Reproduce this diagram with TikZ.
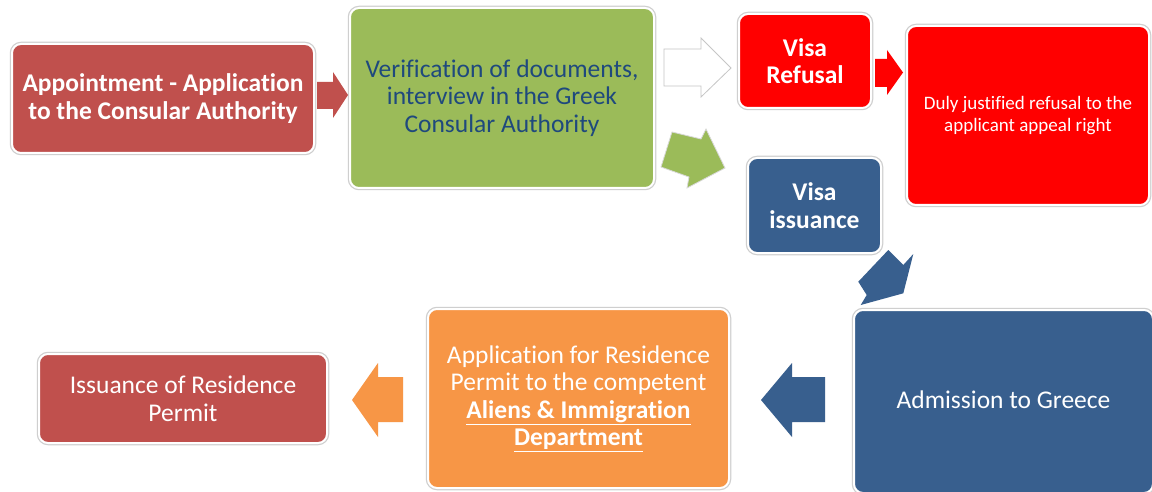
\documentclass[tikz,border=0pt]{standalone}
\usepackage{fontspec}
\setmainfont{Carlito}[Ligatures=NoCommon]
\definecolor{cRed}{HTML}{C0504D}
\definecolor{cGreen}{HTML}{9BBB59}
\definecolor{cBright}{HTML}{FF0000}
\definecolor{cBlue}{HTML}{385F8E}
\definecolor{cOrange}{HTML}{F79646}
\definecolor{cNavy}{HTML}{1F497D}
\definecolor{cEdge}{HTML}{CFCFCF}
\begin{document}
\begin{tikzpicture}[x=1pt,y=-1pt,
  box/.style={rounded corners=9pt, draw=white, line width=2pt,
    preaction={draw=cEdge, line width=4.5pt},
    align=center, text=white, font=\fontsize{25.5}{27.5}\selectfont, inner sep=0pt},
  smallbox/.style={box, font=\fontsize{19}{22}\selectfont},
]
\useasboundingbox (0,0) rectangle (1152,492);
\fill[white] (0,0) rectangle (1152,492);

% boxes
\node[box, fill=cRed, minimum width=302pt, minimum height=109pt] (appt) at (163,98.5)
  {\bfseries Appointment - Application\\\bfseries to the Consular Authority};
\node[box, fill=cGreen, text=cNavy, minimum width=304pt, minimum height=180pt] (verif) at (502,98)
  {Verification of documents,\\interview in the Greek\\Consular Authority};
\node[box, fill=cBright, minimum width=132pt, minimum height=94pt] (refusal) at (805,61)
  {\bfseries Visa\\\bfseries Refusal};
\node[smallbox, fill=cBright, minimum width=242pt, minimum height=179pt] (duly) at (1028,115.5)
  {Duly justified refusal to the\\applicant appeal right};
\node[box, fill=cBlue, minimum width=133pt, minimum height=95pt] (visa) at (814.5,205.5)
  {\bfseries Visa\\\bfseries issuance};
\node[box, fill=cBlue, minimum width=299pt, minimum height=183pt] (admit) at (1003.5,401.5)
  {\raisebox{3pt}{Admission to Greece}};
\node[box, fill=cOrange, minimum width=301pt, minimum height=179pt] (apply) at (578.5,398.5)
  {Application for Residence\\Permit to the competent\\\bfseries\underline{Aliens \& Immigration}\\\bfseries\underline{Department}};
\node[box, fill=cRed, minimum width=288pt, minimum height=89pt] (permit) at (183,398.5)
  {Issuance of Residence\\Permit};

% block arrows
\fill[cRed] (317,82) -- (333,82) -- (333,72) -- (348,95) -- (333,118) -- (333,109) -- (317,109) -- cycle;
\filldraw[fill=white, draw=gray!45, line width=0.8pt] (664,49) -- (701,49) -- (701,38) -- (731,68) -- (701,97) -- (701,86) -- (664,86) -- cycle;
\filldraw[fill=cGreen, draw=gray!30, line width=0.8pt] (672,132) -- (701,139) -- (706,129) -- (725,168) -- (687,188) -- (689,177) -- (661,167) -- cycle;
\fill[cBright] (875,59) -- (887,59) -- (887,50) -- (903,72.5) -- (887,95) -- (887,87) -- (875,87) -- cycle;
\fill[cBlue] (888.3,250) -- (903.3,265) -- (913.3,254) -- (903.3,293.3) -- (860.7,305) -- (866.7,295) -- (858.3,281.7) -- cycle;
\fill[cBlue] (825,377) -- (792,377) -- (792,363) -- (761,400) -- (792,437) -- (792,422) -- (825,422) -- cycle;
\fill[cOrange] (403,377) -- (378,377) -- (378,363) -- (352,400) -- (378,437) -- (378,422) -- (403,422) -- cycle;
\end{tikzpicture}
\end{document}
